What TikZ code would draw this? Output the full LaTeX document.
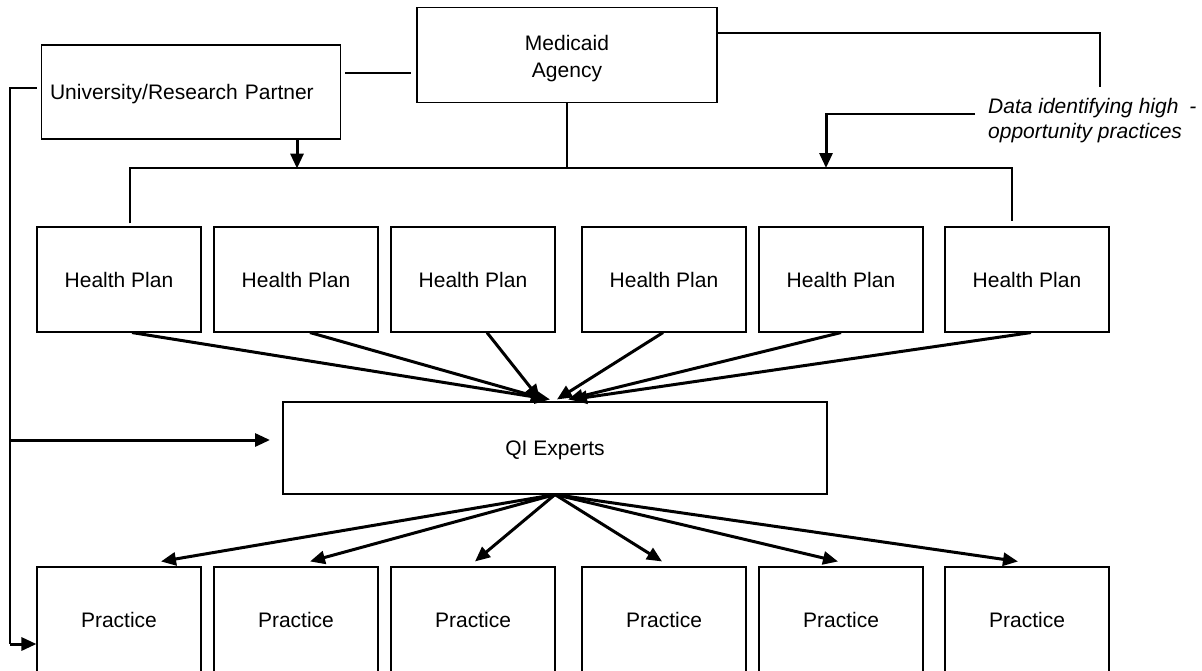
\documentclass[tikz,border=0pt]{standalone}
\usepackage{fontspec}
\setmainfont{Liberation Sans}
\usetikzlibrary{arrows.meta,calc}
\begin{document}
\begin{tikzpicture}[x=1pt,y=-1pt,
  box/.style={draw, line width=1.1pt, inner sep=0pt, font=\fontsize{21}{25}\selectfont, align=center, text depth=0pt},
  hpbox/.style={box, minimum width=164pt, minimum height=105pt},
  txt/.style={inner sep=0pt, font=\fontsize{21}{27}\selectfont, align=center},
  thinline/.style={line width=1.1pt},
  arr/.style={line width=3pt, -{Triangle[length=15pt,width=13pt]}},
]
\useasboundingbox (0,0) rectangle (1202,670);

% nodes
\node[box, minimum width=300pt, minimum height=95pt] (med) at (567,55) {};
\node[txt] (medt) at ([yshift=-4pt]med.center) {Medicaid\\Agency};
\node[box, text width=282pt, inner xsep=8.5pt, align=left, minimum height=94pt] (uni) at (191,92) {University/Research Partner};
\foreach \i/\x in {1/119,2/296,3/473,4/664,5/841,6/1027} {
  \node[hpbox] (hp\i) at (\x,279.5) {Health Plan};
  \node[hpbox] (p\i) at (\x,619.5) {Practice};
}
\node[box, minimum width=544pt, minimum height=92pt] (qi) at (555,448) {QI Experts};
\node[font=\fontsize{21}{25}\selectfont\itshape, align=left, anchor=west, inner sep=0pt] (data) at (988,121) {Data identifying high\hspace{11pt}-\\opportunity practices};

% coordinates
\coordinate (busL) at (130,168);
\coordinate (busR) at (1012,168);
\coordinate (busA) at (826,168);
\coordinate (dcorner) at (826,114);
\coordinate (mr) at (1100,87);
\coordinate (lt) at (10,88);
\coordinate (lm) at (10,440);
\coordinate (lb) at (10,644);
\coordinate (qitip) at (270,440);

% top connectors
\draw[thinline] ($(uni.east)+(4,-19)$) -- ($(med.west)+(-5,18)$);
\draw[thinline] ($(med.east)+(0,-22)$) -| (mr);
\draw[thinline] (med.south) -- (med.south |- busL);
\draw[thinline] ($(hp1.north)+(11,-3)$) -- (busL) -- (busR) -- ($(hp6.north)+(-15,-5)$);
\draw[thinline] ($(data.west)+(-13,-7)$) -- ([xshift=-1.5pt]dcorner);
\draw[arr] ([yshift=0.55pt]dcorner) -- (busA);
\draw[arr] ($(uni.south)+(106,0)$) -- ++(0,29);

% left feedback line
\draw[line width=1.5pt] ($(uni.west)+(-4,-4)$) -- (lt) -- (lb);
\draw[arr] (lb) -- (lb -| p1.west);
\draw[arr] (lm) -- (qitip);

% health plans to QI experts
\foreach \i/\s/\t in {1/13/-5, 2/14/-9, 3/14/-15, 4/-1/2, 5/0/13, 6/4/17}
  \draw[arr] ($(hp\i.south)+(\s,0)$) -- ($(qi.north)+(\t,-2)$);

% QI experts to practices
\foreach \i/\t in {1/42, 2/14, 3/2, 4/-2, 5/-3, 6/-9}
  \draw[arr] (qi.south) -- ($(p\i.north)+(\t,-5)$);
\end{tikzpicture}
\end{document}
